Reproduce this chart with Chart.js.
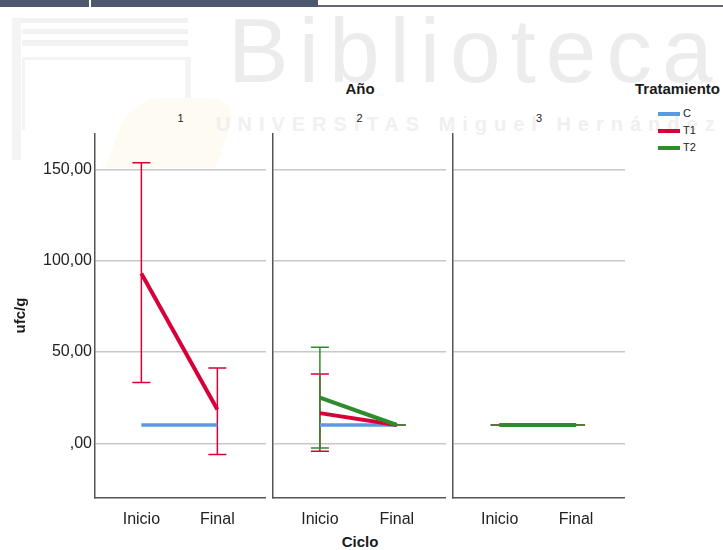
<!DOCTYPE html>
<html>
<head>
<meta charset="utf-8">
<script src="https://cdn.jsdelivr.net/npm/chart.js@4.4.0/dist/chart.umd.min.js"></script>
<style>
  body { margin: 0; background: #fff; font-family: 'Liberation Sans', Arial, sans-serif; }
  #page { position: relative; width: 723px; height: 550px; overflow: hidden; }
  .abs { position: absolute; }
  canvas { position: absolute; }
  .bold { font-weight: bold; color: #1a1a1a; font-size: 15px; }
  .num { font-size: 11px; color: #222; }
  .wm { color: #ececec; white-space: nowrap; }
  .legend-item { position: absolute; left: 658px; font-size: 11px; color: #222; line-height: 12px; }
  .legend-item span { display: inline-block; width: 22px; height: 4px; vertical-align: middle; margin-right: 3px; }
</style>
</head>
<body>
<div id="page">
  <!-- cabecera y marca de agua -->
  <div class="abs" style="left:0;top:0;width:318px;height:7px;background:#4d596b"></div>
  <div class="abs" style="left:89px;top:0;width:2px;height:7px;background:#fff"></div>
  <div class="abs" style="left:318px;top:5px;width:405px;height:2px;background:#5f6876"></div>
  <div class="abs" style="left:12px;top:18px;width:176px;height:5px;background:#f2f2f2"></div>
  <div class="abs" style="left:22px;top:29px;width:166px;height:5px;background:#f2f2f2"></div>
  <div class="abs" style="left:22px;top:40px;width:166px;height:6px;background:#f2f2f2"></div>
  <div class="abs" style="left:12px;top:20px;width:9px;height:140px;background:#f4f4f4"></div>
  <div class="abs" style="left:22px;top:57px;width:160px;height:70px;border:1px solid #f4f4f4;border-width:3px 6px 0 3px"></div>
  <div class="abs" style="left:118px;top:98px;width:110px;height:70px;background:#fefbf3;transform:skewX(-20deg);border-radius:30px 30px 0 0"></div>
  <div class="abs wm" style="left:228px;top:-1px;font-size:91px;letter-spacing:10px">Biblioteca</div>
  <div class="abs wm" style="left:216px;top:113px;font-size:20px;font-weight:bold;letter-spacing:7px;color:#f0f0f0">UNIVERSITAS Miguel Hernández</div>

  <div class="abs bold" style="left:330px;top:80px;width:60px;text-align:center">Año</div>
  <div class="abs bold" style="left:580px;top:80px;width:140px;text-align:right">Tratamiento</div>
  <div id="legend"></div>
  <div class="abs bold" style="left:320px;top:533px;width:80px;text-align:center">Ciclo</div>
</div>

<script>
// datos
const years = ['1', '2', '3'];
const cycles = ['Inicio', 'Final'];
const treatments = ['C', 'T1', 'T2'];
const colors = ['#5b9ae3', '#d6003b', '#2f8c2b'];
const lineWidths = [3.5, 4, 4];

// medias por año [Inicio, Final]
const meanC  = [[10, 10], [10, 10], [10, 10]];
const meanT1 = [[93, 18.5], [16.5, 10], [10, 10]];
const meanT2 = [[null, null], [25, 10], [10, 10]];

// barras de error (límite inferior / superior)
const lowT1  = [[33.3, -6.2], [-4.4, 10], [10, 10]];
const highT1 = [[153.7, 41.3], [38, 10], [10, 10]];
const lowT2  = [[null, null], [-2.6, 10], [10, 10]];
const highT2 = [[null, null], [52.6, 10], [10, 10]];

const yTicks = [0, 50, 100, 150];
const yTickLabels = [',00', '50,00', '100,00', '150,00'];

const means = [meanC, meanT1, meanT2];
const lows = [null, lowT1, lowT2];
const highs = [null, highT1, highT2];

// posición de cada panel
const panels = [
  { left: 0, axisW: 95, width: 266 },
  { left: 268, axisW: 5, width: 178 },
  { left: 448, axisW: 5, width: 177 }
];
const TOP = 133, HEIGHT = 395, XAXIS_H = 30;

// barras de error con los ejes del propio gráfico
const errorBars = {
  id: 'errorBars',
  beforeDatasetsDraw(chart) {
    const { ctx, scales: { x, y } } = chart;
    chart.data.datasets.forEach(ds => {
      if (!ds.errLow) return;
      ctx.save();
      ctx.strokeStyle = ds.borderColor;
      ctx.lineWidth = 1.5;
      ds.errLow.forEach((lo, i) => {
        const hi = ds.errHigh[i];
        if (lo == null || hi == null) return;
        const px = x.getPixelForValue(i);
        const pl = y.getPixelForValue(lo);
        const ph = y.getPixelForValue(hi);
        ctx.beginPath();
        ctx.moveTo(px, pl); ctx.lineTo(px, ph);
        ctx.moveTo(px - 9, pl); ctx.lineTo(px + 9, pl);
        ctx.moveTo(px - 9, ph); ctx.lineTo(px + 9, ph);
        ctx.stroke();
      });
      ctx.restore();
    });
  }
};

const page = document.getElementById('page');

years.forEach((yr, p) => {
  const cfg = panels[p];
  const canvas = document.createElement('canvas');
  canvas.width = cfg.width;
  canvas.height = HEIGHT;
  canvas.style.left = cfg.left + 'px';
  canvas.style.top = TOP + 'px';
  canvas.style.width = cfg.width + 'px';
  canvas.style.height = HEIGHT + 'px';
  page.appendChild(canvas);

  // número del panel centrado sobre el área
  const num = document.createElement('div');
  num.className = 'abs num';
  const mid = cfg.left + cfg.axisW + (cfg.width - cfg.axisW) / 2;
  num.style.cssText = `left:${mid - 20}px;top:112px;width:40px;text-align:center`;
  num.textContent = yr;
  page.appendChild(num);

  const datasets = [];
  treatments.forEach((t, k) => {
    const m = means[k][p];
    if (m.every(v => v == null)) return;
    datasets.push({
      label: t,
      data: m.map((v, i) => ({ x: i, y: v })),
      borderColor: colors[k],
      borderWidth: lineWidths[k],
      pointRadius: 0,
      fill: false,
      order: treatments.length - k, // T2 encima
      errLow: lows[k] ? lows[k][p] : null,
      errHigh: highs[k] ? highs[k][p] : null
    });
  });

  const first = p === 0;
  new Chart(canvas, {
    type: 'line',
    data: { datasets },
    plugins: [errorBars],
    options: {
      responsive: false,
      animation: false,
      layout: { padding: 0 },
      plugins: { legend: { display: false }, tooltip: { enabled: false } },
      scales: {
        x: {
          type: 'linear',
          min: -0.61,
          max: 1.64,
          afterBuildTicks: s => { s.ticks = cycles.map((c, i) => ({ value: i })); },
          afterFit: s => { s.height = XAXIS_H; s.paddingLeft = 0; s.paddingRight = 0; },
          grid: { display: false },
          border: { display: true, color: '#555', width: 1.5 },
          ticks: {
            callback: v => cycles[v],
            color: '#222',
            font: { size: 16, family: "'Liberation Sans', Arial, sans-serif" },
            padding: 4,
            maxRotation: 0
          }
        },
        y: {
          min: -30,
          max: 170,
          afterBuildTicks: s => { s.ticks = yTicks.map(v => ({ value: v })); },
          afterFit: s => { s.width = cfg.axisW; s.paddingTop = 0; s.paddingBottom = 0; },
          grid: { color: '#c8c8c8', lineWidth: 1.5, drawTicks: false },
          border: { display: true, color: '#555', width: 1.5 },
          title: {
            display: first,
            text: 'ufc/g',
            color: '#1a1a1a',
            font: { size: 15, weight: 'bold', family: "'Liberation Sans', Arial, sans-serif" },
            padding: { top: 12, bottom: 0 }
          },
          ticks: {
            display: first,
            callback: (v, i) => yTickLabels[i],
            color: '#222',
            font: { size: 16, family: "'Liberation Sans', Arial, sans-serif" },
            padding: 3
          }
        }
      }
    }
  });
});

// leyenda
const legend = document.getElementById('legend');
treatments.forEach((t, k) => {
  const item = document.createElement('div');
  item.className = 'legend-item';
  item.style.top = (107 + k * 17) + 'px';
  item.innerHTML = `<span style="background:${colors[k]}"></span>${t}`;
  legend.appendChild(item);
});
</script>
</body>
</html>
